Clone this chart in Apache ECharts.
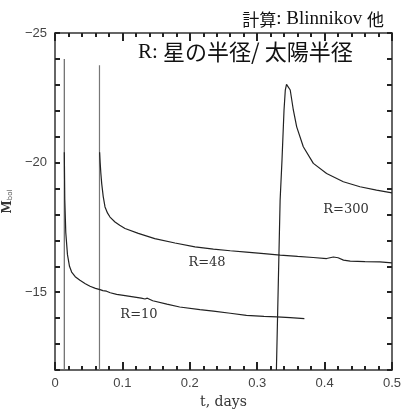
<!DOCTYPE html>
<html>
<head>
<meta charset="utf-8">
<script src="https://cdn.jsdelivr.net/npm/echarts@6/dist/echarts.min.js"></script>
<style>
html,body{margin:0;padding:0;background:#fff;}
#chart{width:403px;height:409px;}
</style>
</head>
<body>
<div id="chart"></div>
<script>
// ---- data (t in days, M_bol) ----
var r10T = [0.0138, 0.0145, 0.0160, 0.0185, 0.0215, 0.0247, 0.030, 0.037, 0.045, 0.052, 0.060, 0.0668, 0.071, 0.0735, 0.0765, 0.082, 0.0915, 0.104, 0.116, 0.128, 0.1335, 0.137, 0.145, 0.166, 0.185, 0.215, 0.235, 0.260, 0.284, 0.310, 0.329, 0.349, 0.370];
var r10M = [-20.4, -18.6, -17.3, -16.45, -16.0, -15.78, -15.6, -15.46, -15.33, -15.23, -15.15, -15.10, -15.06, -15.12, -15.04, -14.98, -14.92, -14.87, -14.82, -14.77, -14.74, -14.77, -14.67, -14.54, -14.43, -14.33, -14.27, -14.19, -14.11, -14.07, -14.05, -14.02, -13.98];

var r48T = [0.0662, 0.0670, 0.0680, 0.0693, 0.0715, 0.0742, 0.0780, 0.0816, 0.089, 0.0960, 0.1039, 0.1236, 0.148, 0.178, 0.2077, 0.235, 0.260, 0.284, 0.310, 0.334, 0.360, 0.383, 0.403, 0.413, 0.420, 0.428, 0.438, 0.460, 0.482, 0.500];
var r48M = [-20.4, -20.0, -19.6, -19.19, -18.7, -18.29, -18.05, -17.9, -17.71, -17.58, -17.46, -17.27, -17.07, -16.9, -16.75, -16.66, -16.6, -16.55, -16.49, -16.43, -16.38, -16.34, -16.30, -16.36, -16.33, -16.24, -16.20, -16.18, -16.17, -16.13];

var r300T = [0.3285, 0.334, 0.3368, 0.3398, 0.3417, 0.3435, 0.3447, 0.3462, 0.349, 0.3536, 0.3586, 0.3684, 0.3833, 0.403, 0.4278, 0.4525, 0.477, 0.500];
var r300M = [-12.0, -18.55, -20.1, -22.03, -22.8, -23.02, -23.07, -23.0, -22.8, -22.03, -21.38, -20.61, -19.97, -19.58, -19.26, -19.07, -18.94, -18.83];

var v10T = [0.0138, 0.0138];
var v10M = [-12.0, -24.0];
var v48T = [0.0660, 0.0660];
var v48M = [-12.0, -23.76];

var yTicks = [-25, -20, -15];

var labels = ['R=10', 'R=48', 'R=300'];
var titleText = '星の半径/ 太陽半径';

function pairs(t, m) { return t.map(function (v, i) { return [v, m[i]]; }); }

var axisColor = '#333';
var tickColor = '#222';
var chart = echarts.init(document.getElementById('chart'));

function xAxisDef(pos, showLabel) {
  var a = {
    type: 'value', position: pos, min: 0, max: 0.5, interval: 0.1,
    axisLine: {show: true, onZero: false, lineStyle: {color: axisColor, width: 1.5}},
    axisTick: {show: true, inside: true, length: 8, lineStyle: {color: tickColor, width: 2}},
    minorTick: {show: true, splitNumber: 5, length: 4, lineStyle: {color: tickColor, width: 2}},
    splitLine: {show: false},
    axisLabel: {show: showLabel, margin: 7, color: '#444', fontSize: 13, fontFamily: 'Liberation Sans'}
  };
  if (showLabel) {
    a.name = 't, days'; a.nameLocation = 'middle'; a.nameGap = 21;
    a.nameTextStyle = {fontSize: 14, fontFamily: 'DejaVu Serif', color: '#333'};
  }
  return a;
}
function yAxisDef(pos, showLabel) {
  var a = {
    type: 'value', position: pos, min: -25, max: -12, interval: 1, inverse: true,
    axisLine: {show: true, onZero: false, lineStyle: {color: axisColor, width: 1.5}},
    axisTick: {show: true, inside: true, length: 5, interval: 0, lineStyle: {color: tickColor, width: 2}},
    splitLine: {show: false},
    axisLabel: {show: showLabel, interval: 0, margin: 8, color: '#444', fontSize: 13, fontFamily: 'Liberation Sans',
      formatter: function (v) {
        for (var i = 0; i < yTicks.length; i++) if (Math.abs(yTicks[i] - v) < 1e-9) return '\u2212' + Math.abs(yTicks[i]);
        return '';
      }}
  };
  if (showLabel) {
    a.name = '{m|M}{s|bol}'; a.nameLocation = 'middle'; a.nameRotate = 90; a.nameGap = 31;
    a.nameTextStyle = {rich: {
      m: {fontSize: 12, fontFamily: 'DejaVu Serif', fontWeight: 'bold', color: '#333'},
      s: {fontSize: 7, fontFamily: 'DejaVu Sans', color: '#555', padding: [5, 0, 0, 0]}}};
  }
  return a;
}

function lineSeries(data, color, width, mark) {
  var s = {type: 'line', xAxisIndex: 0, yAxisIndex: 0, data: data, showSymbol: false, symbol: 'none',
    silent: true, clip: true, lineStyle: {color: color, width: width}};
  if (mark) {
    s.markPoint = {symbol: 'circle', symbolSize: 0, silent: true, data: [{coord: mark.coord, value: mark.text,
      label: {show: true, position: 'inside', formatter: mark.text, color: '#333', fontSize: 13, fontFamily: 'DejaVu Serif'}}]};
  }
  return s;
}

var option = {
  animation: false,
  grid: {left: 55, right: 11, top: 33, bottom: 39, outerBoundsMode: 'none', containLabel: false},
  title: [
    {text: '{c|計算}{l|: Blinnikov }{c|他}', right: 14, top: 5,
      textStyle: {fontWeight: 'normal', rich: {
        c: {fontSize: 17, fontFamily: 'Noto Sans CJK JP', fontWeight: 'normal', color: '#111'},
        l: {fontSize: 19, fontFamily: 'Liberation Serif', fontWeight: 'normal', color: '#111'}}}},
    {text: '{l|R: }{c|' + titleText + '}', left: 133, top: 36,
      textStyle: {fontWeight: 'normal', rich: {
        c: {fontSize: 22, fontFamily: 'Noto Sans CJK JP', fontWeight: 'normal', color: '#111'},
        l: {fontSize: 21, fontFamily: 'Liberation Serif', fontWeight: 'normal', color: '#111'}}}}
  ],
  xAxis: [xAxisDef('bottom', true), xAxisDef('top', false)],
  yAxis: [yAxisDef('left', true), yAxisDef('right', false)],
  series: [
    lineSeries(pairs(v10T, v10M), '#666', 1.2),
    lineSeries(pairs(v48T, v48M), '#777', 1.2),
    lineSeries(pairs(r10T, r10M), '#222', 1.2, {coord: [0.1246, -14.15], text: labels[0]}),
    lineSeries(pairs(r48T, r48M), '#222', 1.2, {coord: [0.2255, -16.16], text: labels[1]}),
    lineSeries(pairs(r300T, r300M), '#222', 1.2, {coord: [0.4318, -18.17], text: labels[2]})
  ]
};
chart.setOption(option);
</script>
</body>
</html>
